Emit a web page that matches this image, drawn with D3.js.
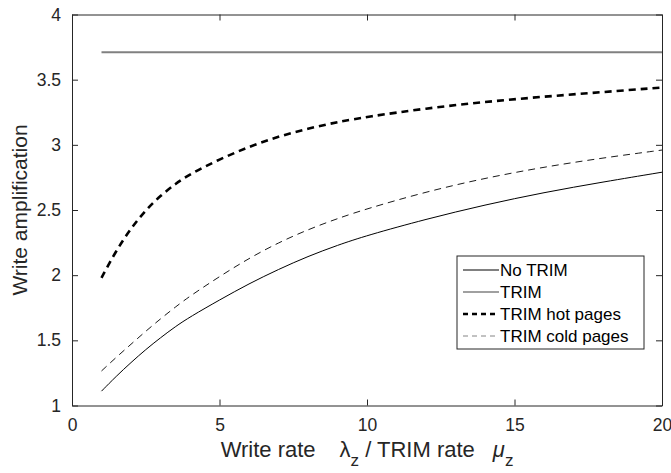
<!DOCTYPE html>
<html>
<head>
<meta charset="utf-8">
<script src="https://cdn.jsdelivr.net/npm/d3@7"></script>
<style>
  body { margin: 0; background: #fff; }
  svg { display: block; font-family: "Liberation Sans", Arial, sans-serif; }
  .tick text { font-size: 17.5px; fill: #262626; }
</style>
</head>
<body>
<script>
// Data
const rates = [1, 1.5, 2, 2.5, 3, 3.5, 4, 5, 6, 7, 8, 9, 10, 12, 14, 16, 18, 20];
const noTrim = [3.71, 3.71, 3.71, 3.71, 3.71, 3.71, 3.71, 3.71, 3.71, 3.71, 3.71, 3.71, 3.71, 3.71, 3.71, 3.71, 3.71, 3.71];
const trim = [1.11, 1.225, 1.33, 1.43, 1.52, 1.605, 1.68, 1.81, 1.935, 2.045, 2.145, 2.23, 2.305, 2.43, 2.54, 2.635, 2.715, 2.79];
const trimHot = [1.98, 2.19, 2.36, 2.50, 2.61, 2.70, 2.775, 2.89, 2.985, 3.065, 3.125, 3.175, 3.215, 3.28, 3.33, 3.37, 3.405, 3.44];
const trimCold = [1.265, 1.37, 1.47, 1.57, 1.665, 1.755, 1.84, 1.99, 2.13, 2.25, 2.35, 2.435, 2.51, 2.64, 2.745, 2.83, 2.9, 2.96];
const xTicks = [0, 5, 10, 15, 20];
const yTicks = [1, 1.5, 2, 2.5, 3, 3.5, 4];

const series = [
  { name: 'No TRIM', values: noTrim, color: '#808080', width: 2, dash: null },
  { name: 'TRIM', values: trim, color: '#000', width: 1, dash: null },
  { name: 'TRIM hot pages', values: trimHot, color: '#000', width: 2.6, dash: '7,5' },
  { name: 'TRIM cold pages', values: trimCold, color: '#000', width: 0.9, dash: '7,5' }
];

const W = 671, H = 473;
const margin = { top: 14.5, right: 9, bottom: 67.5, left: 72 };
const width = W - margin.left - margin.right;
const height = H - margin.top - margin.bottom;

const svg = d3.select('body')
  .append('svg')
  .attr('width', W)
  .attr('height', H);

svg.append('rect').attr('width', W).attr('height', H).attr('fill', '#fff');

const x = d3.scaleLinear().domain([0, 20]).range([0, width]);
const y = d3.scaleLinear().domain([1, 4]).range([height, 0]);

const g = svg.append('g')
  .attr('transform', `translate(${margin.left}, ${margin.top})`);

// axes, ticks pointing inside
g.append('g')
  .attr('class', 'x axis')
  .attr('transform', `translate(0, ${height})`)
  .call(d3.axisBottom(x).tickValues(xTicks).tickFormat(d => d).tickSizeInner(-6).tickSizeOuter(0).tickPadding(12));

g.append('g')
  .attr('class', 'x axis top')
  .call(d3.axisTop(x).tickValues(xTicks).tickSizeInner(-6).tickSizeOuter(0).tickFormat(''));

g.append('g')
  .attr('class', 'y axis')
  .call(d3.axisLeft(y).tickValues(yTicks).tickFormat(d => d).tickSizeInner(-6).tickSizeOuter(0).tickPadding(11));

g.append('g')
  .attr('class', 'y axis right')
  .attr('transform', `translate(${width}, 0)`)
  .call(d3.axisRight(y).tickValues(yTicks).tickSizeInner(-6).tickSizeOuter(0).tickFormat(''));

g.selectAll('.axis path').attr('stroke', '#262626');
g.selectAll('.axis line').attr('stroke', '#262626');
g.selectAll('.x.axis text').attr('dy', '0.75em');

// lines
const line = d3.line()
  .x((d, i) => x(rates[i]))
  .y(d => y(d))
  .curve(d3.curveBasis);

g.selectAll('path.series')
  .data(series)
  .enter()
  .append('path')
  .attr('class', 'series')
  .attr('fill', 'none')
  .attr('stroke', d => d.color)
  .attr('stroke-width', d => d.width)
  .attr('stroke-dasharray', d => d.dash)
  .attr('d', d => line(d.values));

// legend
const legend = svg.append('g')
  .attr('transform', 'translate(457, 256)');

legend.append('rect')
  .attr('width', 187)
  .attr('height', 93)
  .attr('fill', '#fff')
  .attr('stroke', '#262626')
  .attr('stroke-width', 1);

const rows = legend.selectAll('g.row')
  .data(series)
  .enter()
  .append('g')
  .attr('class', 'row')
  .attr('transform', (d, i) => `translate(0, ${14 + i * 22})`);

rows.append('line')
  .attr('x1', 6)
  .attr('x2', 42)
  .attr('stroke', d => d.dash ? (d.width > 2 ? '#000' : '#777') : '#808080')
  .attr('stroke-width', d => d.dash ? d.width : (d.width > 1.5 ? 2 : 1.3))
  .attr('stroke-dasharray', d => d.dash ? '5,4' : null);

rows.append('text')
  .text(d => d.name)
  .attr('x', 43)
  .attr('dominant-baseline', 'central')
  .attr('font-size', 17)
  .attr('fill', '#000');

// axis labels
const xl = svg.append('text')
  .attr('x', margin.left + width / 2)
  .attr('y', 457)
  .attr('text-anchor', 'middle')
  .attr('font-size', 22)
  .attr('fill', '#262626');

xl.append('tspan').text('Write rate');
xl.append('tspan').attr('dx', 24).text('λ');
xl.append('tspan').attr('dy', 9).attr('font-size', 17).text('z');
xl.append('tspan').attr('dy', -9).text(' / TRIM rate');
xl.append('tspan').attr('dx', 18).attr('font-style', 'italic').text('μ');
xl.append('tspan').attr('dy', 9).attr('font-size', 17).text('z');

svg.append('text')
  .text('Write amplification')
  .attr('transform', `translate(27, ${margin.top + height / 2}) rotate(-90)`)
  .attr('text-anchor', 'middle')
  .attr('font-size', 21)
  .attr('fill', '#262626');
</script>
</body>
</html>
